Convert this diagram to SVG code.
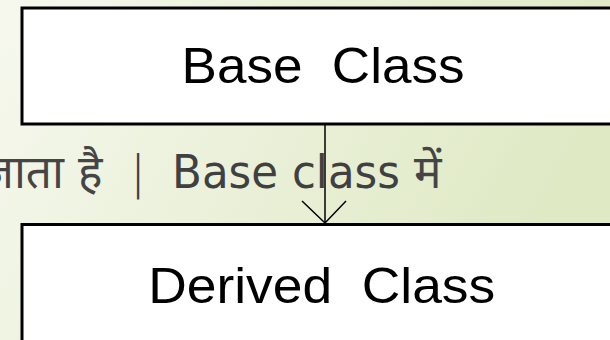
<svg xmlns="http://www.w3.org/2000/svg" width="610" height="340" viewBox="0 0 610 340">
<defs>
<linearGradient id="bg" x1="0" y1="0" x2="1" y2="0.3">
<stop offset="0" stop-color="#f6f8ee"/>
<stop offset="1" stop-color="#dfe9c4"/>
</linearGradient>
<style>
.box{fill:#ffffff;stroke:#000000;stroke-width:3}
.lbl{font-family:"Liberation Sans",Arial,sans-serif;font-size:50px;fill:#000000;text-anchor:middle}
.hi{font-family:"Noto Sans Devanagari","Noto Sans",sans-serif;font-size:46px;fill:#454545}
.lat{font-family:"DejaVu Sans","Noto Sans",sans-serif;font-size:46px;fill:#404040}
.conn{stroke:#000000;stroke-width:1.5;fill:none}
</style>
</defs>
<rect x="0" y="0" width="610" height="340" fill="url(#bg)"/>
<g id="bodytext">
<text class="hi" x="64" y="188" text-anchor="end">जाता</text>
<text class="hi" x="78" y="188">है</text>
<text class="lat" x="138" y="188" text-anchor="middle" font-weight="300">|</text>
<text class="lat" x="172" y="188" textLength="228" lengthAdjust="spacingAndGlyphs">Base class</text>
<text class="hi" x="414" y="188">में</text>
</g>
<g id="base">
<rect class="box" x="22" y="8" width="600" height="116"/>
<text class="lbl" x="323" y="83" textLength="283" lengthAdjust="spacingAndGlyphs" xml:space="preserve">Base  Class</text>
</g>
<g id="derived">
<rect class="box" x="22" y="224.5" width="600" height="130"/>
<text class="lbl" x="321.7" y="302.5" textLength="347" lengthAdjust="spacingAndGlyphs" xml:space="preserve">Derived  Class</text>
</g>
<g id="connectors">
<line class="conn" x1="325" y1="125" x2="325" y2="223"/>
<polyline class="conn" points="302,201 325,223 346,201"/>
</g>
</svg>
